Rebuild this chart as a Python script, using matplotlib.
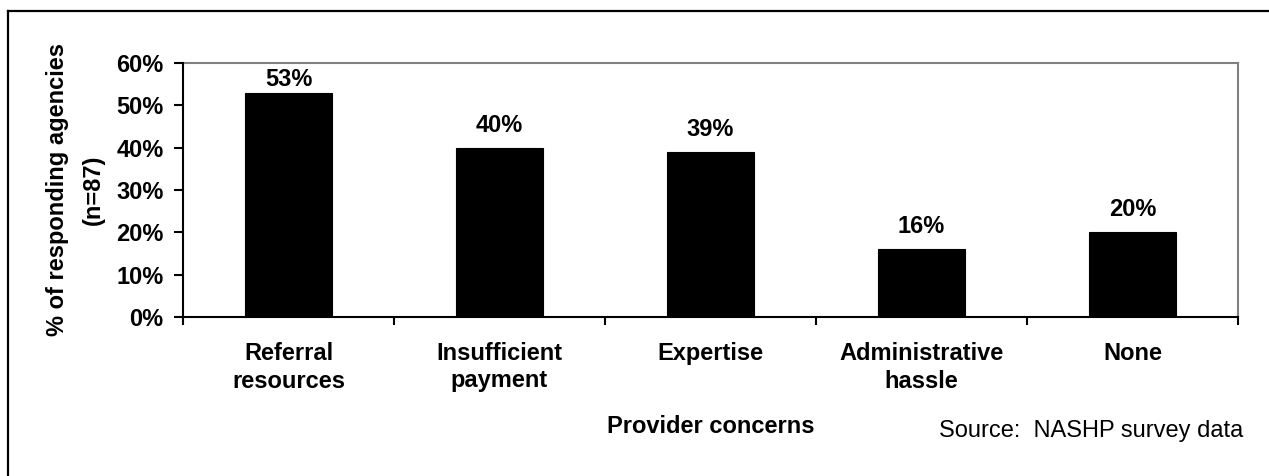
import matplotlib
matplotlib.use("Agg")
import matplotlib.pyplot as plt
from matplotlib.lines import Line2D
import numpy as np

categories = ["Referral\nresources", "Insufficient\npayment", "Expertise",
              "Administrative\nhassle", "None"]
values = [53, 40, 39, 16, 20]
yticks = [0, 10, 20, 30, 40, 50, 60]
ytick_labels = ["0%", "10%", "20%", "30%", "40%", "50%", "60%"]

plt.rcParams['font.family'] = ['Liberation Sans', 'DejaVu Sans']
FS = 17

W, H = 1269, 476
fig = plt.figure(figsize=(W / 100, H / 100), dpi=100)
fig.patch.set_facecolor("white")

# axes area in pixels
L, R, T, B = 183, 1238, 63, 317
ax = fig.add_axes([L / W, 1 - B / H, (R - L) / W, (B - T) / H])

x = np.arange(len(categories))
ax.bar(x, values, width=0.41, color="black", edgecolor="black", linewidth=0.8, zorder=3)

ax.set_xlim(-0.5, len(categories) - 0.5)
ax.set_ylim(0, 60)

# y axis
ax.set_yticks(yticks)
ax.set_yticklabels(ytick_labels, fontsize=FS, fontweight="bold")
ax.tick_params(axis="y", direction="out", length=6.5, width=1.5, pad=7.5, colors="black")

# x axis: labels at centers, tick marks at category boundaries
ax.set_xticks(x)
ax.set_xticklabels(categories, fontsize=FS, fontweight="bold", linespacing=1.25)
ax.set_xticks(np.arange(-0.5, len(categories), 1.0), minor=True)
ax.tick_params(axis="x", which="major", length=0, pad=18)
ax.tick_params(axis="x", which="minor", direction="out", length=6, width=1.5, colors="black")

for s in ["left", "bottom"]:
    ax.spines[s].set_color("black")
    ax.spines[s].set_linewidth(1.5)
    ax.spines[s].set_zorder(4)
for s in ["top", "right"]:
    ax.spines[s].set_color("#808080")
    ax.spines[s].set_linewidth(1.5)

# data labels (clamped inside plot area)
for xi, v in zip(x, values):
    yb = min(v + 3.8, 54.6)
    ax.text(xi, yb, f"{v}%", ha="center", va="baseline", fontsize=FS, fontweight="bold", zorder=5)

# axis labels
ax.set_xlabel("Provider concerns", fontsize=FS, fontweight="bold")
ax.xaxis.label.set_va("baseline")
ax.xaxis.set_label_coords(0.5, (B - 433) / (B - T))

ax.set_ylabel("% of responding agencies\n(n=87)", fontsize=FS, fontweight="bold",
              linespacing=1.7, rotation=90, rotation_mode="anchor")
ax.yaxis.label.set_va("center")
ax.yaxis.label.set_ha("center")
ax.yaxis.set_label_coords((75.5 - L) / (R - L), 0.5)

# source note
fig.text(1243 / W, 1 - 437 / H, "Source:  NASHP survey data", ha="right", va="baseline",
         fontsize=FS, color="black")

# figure border (top and left visible)
fig.add_artist(Line2D([8 / W, 1.0], [1 - 10.5 / H, 1 - 10.5 / H], transform=fig.transFigure,
                      color="black", linewidth=1.6))
fig.add_artist(Line2D([8 / W, 8 / W], [0.0, 1 - 10.5 / H], transform=fig.transFigure,
                      color="black", linewidth=1.6))

fig.savefig("out.png", dpi=100, facecolor="white")
